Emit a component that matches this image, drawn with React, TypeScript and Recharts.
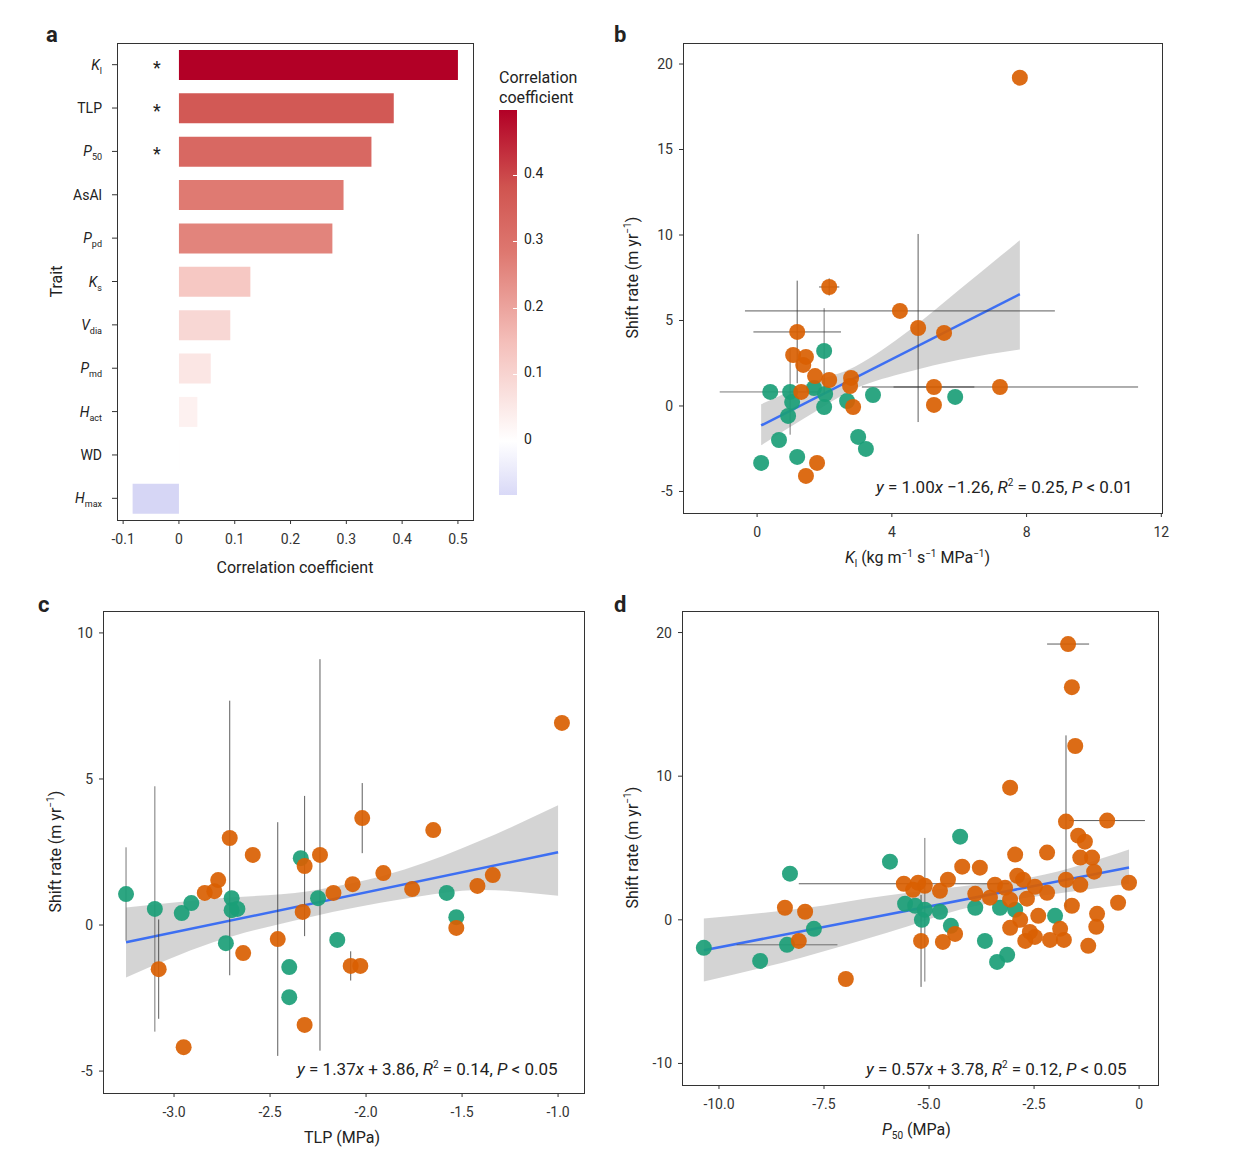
import React from 'react';
import {
  BarChart, Bar, Cell, XAxis, YAxis, ComposedChart, Scatter, Line, Area, ErrorBar,
} from 'recharts';

const FONT = 'Roboto, "Noto Sans", sans-serif';
const ORANGE = '#d95f02';
const GREEN = '#1b9e77';

// Panel a
const traits = ['Kl', 'TLP', 'P50', 'AsAl', 'Ppd', 'Ks', 'Vdia', 'Pmd', 'Hact', 'WD', 'Hmax'];
const corr = [0.5, 0.385, 0.345, 0.295, 0.275, 0.128, 0.092, 0.057, 0.033, 0.002, -0.083];
const starred = ['Kl', 'TLP', 'P50'];
const corrTicks = [-0.1, 0, 0.1, 0.2, 0.3, 0.4, 0.5];
const cbTicks = [0.4, 0.3, 0.2, 0.1, 0];

// Panel b: [x, y, xErr, yErr]
const bOrange = [
  [7.8, 19.2, 0, 0], [2.14, 6.96, 0.3, 0.5], [4.24, 5.56, 4.6, 0], [4.78, 4.56, 0, 5.5], [5.55, 4.27, 0, 0],
  [1.19, 4.33, 1.3, 3], [1.07, 2.98, 0, 0], [1.45, 2.87, 0, 0], [1.37, 2.4, 0, 0], [1.72, 1.75, 0, 0],
  [2.14, 1.52, 0, 0], [2.79, 1.64, 0, 0], [2.76, 1.17, 0, 0], [1.31, 0.82, 0, 0], [5.25, 1.11, 1.2, 0],
  [7.21, 1.11, 4.1, 0], [5.25, 0.06, 0, 0], [2.85, -0.06, 0, 0], [1.78, -3.33, 0, 0], [1.45, -4.09, 0, 0],
];
const bGreen = [
  [0.12, -3.33, 0, 0], [0.39, 0.82, 1.5, 0], [0.98, 0.82, 0, 2.5], [0.65, -1.99, 0, 0], [0.92, -0.58, 0, 0],
  [1.19, -2.98, 0, 0], [1.69, 1.05, 0, 0], [1.99, 3.22, 0, 2.5], [1.99, -0.06, 0, 0], [2.02, 0.7, 0, 0],
  [2.67, 0.29, 0, 0], [3.0, -1.81, 0, 0], [3.23, -2.51, 0, 0], [3.44, 0.64, 0, 0], [5.88, 0.53, 0, 0], [1.04, 0.23, 0, 0],
];
const bBandX = [0.12, 1.5, 2.9, 4.5, 6, 7.8];
const bBandLo = [-2.3, -0.6, 1.0, 2.0, 2.7, 3.3];
const bBandHi = [0.1, 1.3, 2.3, 4.4, 6.8, 9.7];

// Panel c
const cOrange = [
  [-0.98, 6.92, 0, 0], [-1.65, 3.25, 0, 0], [-2.02, 3.66, 0, 1.2], [-2.71, 2.98, 0, 4.7], [-2.59, 2.4, 0, 0],
  [-2.24, 2.4, 0, 6.7], [-2.32, 2.02, 0, 2.4], [-2.77, 1.54, 0, 0], [-2.84, 1.1, 0, 0], [-2.79, 1.16, 0, 0],
  [-1.91, 1.78, 0, 0], [-2.07, 1.4, 0, 0], [-2.17, 1.1, 0, 0], [-1.76, 1.23, 0, 0], [-1.34, 1.71, 0, 0],
  [-1.42, 1.34, 0, 0], [-2.33, 0.45, 0, 0], [-2.46, -0.48, 0, 4.0], [-2.64, -0.96, 0, 0], [-3.08, -1.51, 0, 1.7],
  [-2.08, -1.4, 0, 0.5], [-2.03, -1.4, 0, 0], [-2.32, -3.42, 0, 0], [-2.95, -4.18, 0, 0], [-1.53, -0.1, 0, 0],
];
const cGreen = [
  [-3.25, 1.06, 0, 1.6], [-3.1, 0.55, 0, 4.2], [-2.96, 0.41, 0, 0], [-2.91, 0.75, 0, 0], [-2.7, 0.92, 0, 0],
  [-2.7, 0.51, 0, 0], [-2.67, 0.55, 0, 0], [-2.34, 2.29, 0, 0], [-2.25, 0.92, 0, 0], [-1.58, 1.1, 0, 0],
  [-1.53, 0.27, 0, 0], [-2.73, -0.62, 0, 0], [-2.15, -0.51, 0, 0], [-2.4, -1.44, 0, 0], [-2.4, -2.47, 0, 0],
];
const cBandX = [-3.25, -2.8, -2.3, -1.8, -1.4, -1.0];
const cBandLo = [-1.8, -0.6, 0.26, 0.9, 1.2, 1.0];
const cBandHi = [0.6, 0.9, 1.16, 1.9, 2.9, 4.1];

// Panel d
const dOrange = [
  [-1.69, 19.2, 0.5, 0], [-1.6, 16.2, 0, 0], [-1.52, 12.1, 0, 0], [-3.07, 9.2, 0, 0], [-1.74, 6.84, 0, 6],
  [-0.76, 6.91, 0.9, 0], [-1.45, 5.86, 0, 0], [-1.29, 5.44, 0, 0], [-2.95, 4.54, 0, 0], [-2.19, 4.68, 0, 0],
  [-1.4, 4.33, 0, 0], [-1.12, 4.33, 0, 0], [-4.21, 3.7, 0, 0], [-3.79, 3.63, 0, 0], [-1.07, 3.35, 0, 0],
  [-2.9, 3.07, 0, 0], [-2.76, 2.79, 0, 0], [-4.55, 2.79, 0, 0], [-0.24, 2.58, 0, 0], [-5.6, 2.51, 2.5, 0],
  [-5.26, 2.58, 0, 0], [-5.1, 2.37, 0, 0], [-5.38, 2.09, 0, 0], [-4.74, 2.02, 0, 0], [-3.43, 2.44, 0, 0],
  [-3.19, 2.23, 0, 0], [-2.48, 2.3, 0, 0], [-2.19, 1.88, 0, 0], [-1.74, 2.79, 0, 0], [-1.4, 2.44, 0, 0],
  [-3.9, 1.81, 0, 0], [-3.55, 1.54, 0, 0], [-3.07, 1.4, 0, 0], [-2.67, 1.47, 0, 0], [-1.6, 0.98, 0, 0],
  [-0.5, 1.19, 0, 0], [-8.43, 0.84, 0, 0], [-7.95, 0.56, 0, 0], [-1.0, 0.42, 0, 0], [-1.02, -0.49, 0, 0],
  [-2.4, 0.28, 0, 0], [-2.83, 0, 0, 0], [-3.07, -0.56, 0, 0], [-2.6, -0.84, 0, 0], [-1.88, -0.63, 0, 0],
  [-2.48, -1.19, 0, 0], [-2.12, -1.4, 0, 0], [-1.79, -1.4, 0, 0], [-2.71, -1.47, 0, 0], [-4.38, -0.98, 0, 0],
  [-4.67, -1.54, 0, 0], [-5.19, -1.47, 0, 3.2], [-8.1, -1.47, 0, 0], [-1.21, -1.81, 0, 0], [-6.98, -4.12, 0, 0],
];
const dGreen = [
  [-10.36, -1.95, 0, 0], [-9.02, -2.86, 0, 0], [-8.38, -1.74, 1.2, 0], [-8.31, 3.21, 0, 0], [-7.74, -0.63, 0, 0],
  [-5.93, 4.05, 0, 0], [-4.26, 5.79, 0, 0], [-5.57, 1.12, 0, 0], [-5.33, 0.98, 0, 0], [-5.17, 0, 0, 0],
  [-4.74, 0.56, 0, 0], [-4.48, -0.42, 0, 0], [-3.9, 0.84, 0, 0], [-3.67, -1.47, 0, 0], [-3.38, -2.93, 0, 0],
  [-3.14, -2.44, 0, 0], [-3.31, 0.84, 0, 0], [-2.0, 0.28, 0, 0], [-2.95, 0.7, 0, 0], [-5.1, 0.7, 0, 5.0],
];
const dBandX = [-10.36, -8, -6, -4, -2.5, -0.24];
const dBandLo = [-4.3, -2.6, -0.9, 0.9, 1.6, 2.5];
const dBandHi = [0.1, 0.8, 1.7, 2.4, 3.0, 4.9];

const toPts = (arr: number[][]) => arr.map(([x, y, xe, ye]) => ({ x, y, xe, ye }));
const toBand = (xs: number[], lo: number[], hi: number[]) => xs.map((x, i) => ({ x, r: [lo[i], hi[i]] }));
const fit = (a: number, b: number, x0: number, x1: number) => [{ x: x0, y: a * x0 + b }, { x: x1, y: a * x1 + b }];

function mix(c1: number[], c2: number[], t: number) {
  const c = c1.map((v, i) => Math.round(v + (c2[i] - v) * t));
  return `rgb(${c[0]},${c[1]},${c[2]})`;
}
// white -> light salmon -> red -> dark red
const stops: [number, number[]][] = [
  [0, [255, 255, 255]], [0.15, [244, 190, 185]], [0.3, [222, 120, 112]], [0.4, [208, 84, 80]], [0.5, [178, 0, 38]],
];
function corrColor(v: number) {
  if (v < 0) return mix([255, 255, 255], [214, 214, 245], Math.min(-v / 0.083, 1));
  for (let i = 1; i < stops.length; i++) {
    if (v <= stops[i][0]) {
      const [a, ca] = stops[i - 1];
      const [b, cb] = stops[i];
      return mix(ca, cb, (v - a) / (b - a));
    }
  }
  return 'rgb(178,0,38)';
}

const traitLabel: Record<string, [string, string, boolean]> = {
  Kl: ['K', 'l', true], TLP: ['TLP', '', false], P50: ['P', '50', true], AsAl: ['AsAl', '', false],
  Ppd: ['P', 'pd', true], Ks: ['K', 's', true], Vdia: ['V', 'dia', true], Pmd: ['P', 'md', true],
  Hact: ['H', 'act', true], WD: ['WD', '', false], Hmax: ['H', 'max', true],
};

function TraitTick(props: any) {
  const { x, y, payload } = props;
  const [main, sub, it] = traitLabel[payload.value];
  return (
    <g>
      <text x={x - 8} y={y + 5} textAnchor="end" fontSize={14} fill="#222" fontFamily={FONT}>
        <tspan fontStyle={it ? 'italic' : 'normal'}>{main}</tspan>
        {sub && <tspan fontSize={9} dy={4}>{sub}</tspan>}
      </text>
      {starred.includes(payload.value) && (
        <text x={157} y={y + 9} textAnchor="middle" fontSize={18} fill="#222" fontFamily={FONT}>*</text>
      )}
    </g>
  );
}

const dot = (color: string) => (p: any) => (
  <circle cx={p.cx} cy={p.cy} r={8} fill={color} fillOpacity={0.92} />
);

const tickStyle = { fill: '#333', fontSize: 14, fontFamily: FONT };

function ScatterPanel(props: {
  left: number; top: number; width: number; height: number; yw: number; right: number; mtop: number; xh: number; mb: number;
  xDomain: number[]; xTicks: number[]; yDomain: number[]; yTicks: number[]; xFmt?: (v: number) => string;
  orange: number[][]; green: number[][]; band: any[]; line: any[];
}) {
  const p = props;
  return (
    <div style={{ position: 'absolute', left: p.left, top: p.top }}>
      <ComposedChart width={p.width} height={p.height} margin={{ top: p.mtop, right: p.right, left: 0, bottom: p.mb }}>
        <XAxis dataKey="x" type="number" domain={p.xDomain} ticks={p.xTicks} allowDataOverflow height={p.xh}
          axisLine={false} tickSize={4} tickMargin={10} tick={tickStyle} tickFormatter={p.xFmt} stroke="#333" />
        <YAxis dataKey="y" type="number" domain={p.yDomain} ticks={p.yTicks} allowDataOverflow width={p.yw}
          axisLine={false} tickSize={4} tickMargin={6} tick={tickStyle} stroke="#333" />
        <Area data={p.band} dataKey="r" type="monotone" fill="#bdbdbd" fillOpacity={0.65} stroke="none" isAnimationActive={false} />
        <Line data={p.line} dataKey="y" stroke="#3d6ff2" strokeWidth={2.5} dot={false} isAnimationActive={false} />
        <Scatter data={toPts(p.green)} shape={dot(GREEN)} isAnimationActive={false}>
          <ErrorBar dataKey="xe" direction="x" stroke="#555" strokeWidth={0.8} width={0} />
          <ErrorBar dataKey="ye" direction="y" stroke="#555" strokeWidth={0.8} width={0} />
        </Scatter>
        <Scatter data={toPts(p.orange)} shape={dot(ORANGE)} isAnimationActive={false}>
          <ErrorBar dataKey="xe" direction="x" stroke="#333" strokeWidth={0.8} width={0} />
          <ErrorBar dataKey="ye" direction="y" stroke="#333" strokeWidth={0.8} width={0} />
        </Scatter>
      </ComposedChart>
    </div>
  );
}

const frame = (l: number, t: number, r: number, b: number) => (
  <div style={{ position: 'absolute', left: l, top: t, width: r - l, height: b - t, border: '1px solid #333', boxSizing: 'border-box', pointerEvents: 'none' }} />
);
const txt = (x: number, y: number, content: React.ReactNode, extra: React.CSSProperties = {}) => (
  <div style={{ position: 'absolute', left: x, top: y, fontSize: 16, color: '#222', whiteSpace: 'nowrap', ...extra }}>{content}</div>
);
const yLabel = (cx: number, cy: number) => (
  <div style={{ position: 'absolute', left: cx - 100, top: cy - 10, width: 200, textAlign: 'center', transform: 'rotate(-90deg)', fontSize: 16, color: '#222' }}>
    Shift rate (m yr<sup style={{ fontSize: 10 }}>−1</sup>)
  </div>
);

export default function App() {
  const barData = traits.map((t, i) => ({ name: t, v: corr[i] }));
  return (
    <div style={{ position: 'absolute', left: 0, top: 0, width: 1234, height: 1158, background: '#fff', fontFamily: FONT }}>
      {/* a */}
      <div style={{ position: 'absolute', left: 0, top: 0 }}>
        <BarChart width={480} height={590} data={barData} layout="vertical" margin={{ top: 43, right: 7, left: 0, bottom: 10 }}>
          <XAxis type="number" domain={[-0.111, 0.527]} ticks={corrTicks} allowDataOverflow height={60} axisLine={false}
            tickSize={4} tickMargin={10} tick={tickStyle} stroke="#333" />
          <YAxis type="category" dataKey="name" width={117} axisLine={false} tickSize={5} tick={<TraitTick />} stroke="#333" />
          <Bar dataKey="v" barSize={30} isAnimationActive={false}>
            {barData.map((d) => <Cell key={d.name} fill={corrColor(d.v)} />)}
          </Bar>
        </BarChart>
      </div>
      {frame(117, 43, 474, 521)}
      {txt(46, 22, 'a', { fontWeight: 700, fontSize: 22 })}
      <div style={{ position: 'absolute', left: 200, top: 558, width: 190, textAlign: 'center', fontSize: 16, color: '#222' }}>Correlation coefficient</div>
      <div style={{ position: 'absolute', left: -44, top: 272, width: 200, textAlign: 'center', transform: 'rotate(-90deg)', fontSize: 16, color: '#222' }}>Trait</div>
      {txt(499, 68, <span>Correlation<br />coefficient</span>, { lineHeight: '20px' })}
      <div style={{ position: 'absolute', left: 499, top: 110, width: 18, height: 385, background: 'linear-gradient(to bottom, #b20026 0%, #d05450 20%, #de7870 37%, #f4beb9 60%, #ffffff 86%, #d9d9f7 100%)' }} />
      {cbTicks.map((t) => {
        const y = 110 + ((0.498 - t) / 0.58) * 385;
        return (
          <React.Fragment key={t}>
            <div style={{ position: 'absolute', left: 513, top: y, width: 4, height: 1, background: '#fff' }} />
            {txt(524, y - 10, String(t), { fontSize: 14 })}
          </React.Fragment>
        );
      })}

      {/* b */}
      <ScatterPanel left={600} top={0} width={580} height={590} yw={83} right={18} mtop={43} xh={67} mb={10}
        xDomain={[-2.2, 12.02]} xTicks={[0, 4, 8, 12]} yDomain={[-6.26, 21.23]} yTicks={[-5, 0, 5, 10, 15, 20]}
        orange={bOrange} green={bGreen} band={toBand(bBandX, bBandLo, bBandHi)} line={fit(1.0, -1.26, 0.12, 7.8)} />
      {frame(683, 43, 1163, 514)}
      {txt(614, 22, 'b', { fontWeight: 700, fontSize: 22 })}
      {yLabel(632, 278)}
      {txt(845, 548, <span><i>K</i><sub style={{ fontSize: 10 }}>l</sub> (kg m<sup style={{ fontSize: 10 }}>−1</sup> s<sup style={{ fontSize: 10 }}>−1</sup> MPa<sup style={{ fontSize: 10 }}>−1</sup>)</span>)}
      {txt(876, 477, <span><i>y</i> = 1.00<i>x</i> −1.26, <i>R</i><sup style={{ fontSize: 10 }}>2</sup> = 0.25, <i>P</i> &lt; 0.01</span>, { fontSize: 17 })}

      {/* c */}
      <ScatterPanel left={0} top={590} width={600} height={568} yw={103} right={16} mtop={21} xh={60} mb={5}
        xDomain={[-3.37, -0.865]} xTicks={[-3, -2.5, -2, -1.5, -1]} xFmt={(v) => v.toFixed(1)}
        yDomain={[-5.75, 10.75]} yTicks={[-5, 0, 5, 10]}
        orange={cOrange} green={cGreen} band={toBand(cBandX, cBandLo, cBandHi)} line={fit(1.37, 3.86, -3.25, -1.0)} />
      {frame(103, 611, 585, 1094)}
      {txt(38, 592, 'c', { fontWeight: 700, fontSize: 22 })}
      {yLabel(55, 852)}
      {txt(304, 1128, 'TLP (MPa)')}
      {txt(297, 1059, <span><i>y</i> = 1.37<i>x</i> + 3.86, <i>R</i><sup style={{ fontSize: 10 }}>2</sup> = 0.14, <i>P</i> &lt; 0.05</span>, { fontSize: 17 })}

      {/* d */}
      <ScatterPanel left={600} top={590} width={580} height={568} yw={82} right={22} mtop={21} xh={68} mb={5}
        xDomain={[-10.88, 0.45]} xTicks={[-10, -7.5, -5, -2.5, 0]} xFmt={(v) => (v === 0 ? '0' : v.toFixed(1))}
        yDomain={[-11.5, 21.5]} yTicks={[-10, 0, 10, 20]}
        orange={dOrange} green={dGreen} band={toBand(dBandX, dBandLo, dBandHi)} line={fit(0.57, 3.78, -10.36, -0.24)} />
      {frame(682, 611, 1159, 1086)}
      {txt(614, 592, 'd', { fontWeight: 700, fontSize: 22 })}
      {yLabel(632, 848)}
      {txt(882, 1120, <span><i>P</i><sub style={{ fontSize: 10 }}>50</sub> (MPa)</span>)}
      {txt(866, 1059, <span><i>y</i> = 0.57<i>x</i> + 3.78, <i>R</i><sup style={{ fontSize: 10 }}>2</sup> = 0.12, <i>P</i> &lt; 0.05</span>, { fontSize: 17 })}
    </div>
  );
}
